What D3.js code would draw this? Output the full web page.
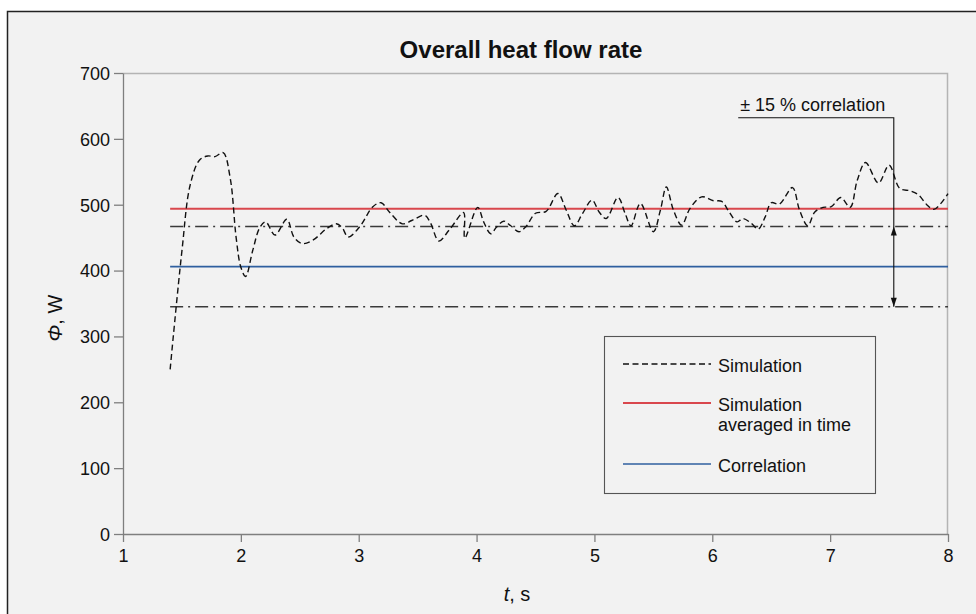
<!DOCTYPE html>
<html>
<head>
<meta charset="utf-8">
<script src="https://cdn.jsdelivr.net/npm/d3@7"></script>
<style>
  html, body { margin: 0; padding: 0; background: #ffffff; }
  svg { display: block; font-family: "Liberation Sans", Arial, Helvetica, sans-serif; }
</style>
</head>
<body>
<svg id="chart" width="976" height="614"></svg>
<script>
// Simulated overall heat flow rate over time (t in s, value in W)
const simTime = [1.40, 1.50, 1.57, 1.65, 1.72, 1.78, 1.85, 1.91, 1.96, 2.00, 2.04, 2.10, 2.16, 2.21, 2.29, 2.39, 2.45, 2.52, 2.61, 2.73, 2.81, 2.86, 2.91, 3.01, 3.12, 3.19, 3.26, 3.37, 3.45, 3.56, 3.61, 3.68, 3.77, 3.89, 3.90, 4.01, 4.06, 4.12, 4.17, 4.23, 4.29, 4.36, 4.42, 4.50, 4.59, 4.69, 4.76, 4.83, 4.90, 4.98, 5.04, 5.10, 5.20, 5.26, 5.31, 5.39, 5.50, 5.56, 5.61, 5.67, 5.74, 5.81, 5.91, 6.01, 6.08, 6.14, 6.21, 6.26, 6.33, 6.39, 6.45, 6.50, 6.57, 6.68, 6.74, 6.81, 6.87, 6.94, 7.01, 7.09, 7.17, 7.23, 7.30, 7.41, 7.50, 7.59, 7.68, 7.75, 7.82, 7.88, 7.94, 8.00];
const simValue = [250, 430, 530, 568, 574, 573, 579, 540, 450, 405, 391, 430, 465, 474, 454, 478, 451, 441, 446, 464, 471, 465, 451, 467, 497, 503, 489, 471, 476, 484, 472, 445, 462, 488, 449, 496, 474, 456, 466, 475, 468, 459, 467, 487, 490, 517, 492, 468, 487, 507, 489, 479, 511, 487, 468, 502, 459, 492, 527, 492, 469, 494, 512, 506, 505, 490, 474, 479, 472, 463, 482, 503, 501, 526, 492, 468, 489, 496, 497, 511, 496, 537, 564, 533, 560, 525, 521, 515, 500, 493, 502, 517];

// Horizontal reference levels (W)
const averagedValue = 494;
const correlationValue = 406;
const bandPercent = 15;
const levelStart = 1.4;
const levelEnd = 8;

// Axis ticks
const xTicks = [1, 2, 3, 4, 5, 6, 7, 8];
const yTicks = [0, 100, 200, 300, 400, 500, 600, 700];

// Legend entries
const legendLabels = [["Simulation"], ["Simulation", "averaged in time"], ["Correlation"]];
const annotationText = "\u00B1 15 % correlation";

const svg = d3.select("#chart");
const W = 976, H = 614;
const margin = { left: 123, top: 73, right: W - 948, bottom: H - 534 };
const plotW = W - margin.left - margin.right;
const plotH = H - margin.top - margin.bottom;

// Outer chart frame
svg.append("rect")
  .attr("x", 7.5).attr("y", 11.5)
  .attr("width", W + 10).attr("height", H + 10)
  .attr("fill", "#f2f2f2")
  .attr("stroke", "#222").attr("stroke-width", 1.5);

const x = d3.scaleLinear().domain([1, 8]).range([margin.left, margin.left + plotW]);
const y = d3.scaleLinear().domain([0, 700]).range([margin.top + plotH, margin.top]);

// Top and right plot borders
svg.append("path")
  .attr("d", `M${x(1)},${y(700) + 0.5}H${x(8) - 0.5}V${y(0)}`)
  .attr("fill", "none").attr("stroke", "#b4b4b4").attr("stroke-width", 1.5);

// Axes
const xAxis = d3.axisBottom(x).tickValues(xTicks).tickFormat(d3.format("d")).tickSizeInner(8).tickSizeOuter(0).tickPadding(5);
const yAxis = d3.axisLeft(y).tickValues(yTicks).tickFormat(d3.format("d")).tickSizeInner(9).tickSizeOuter(0).tickPadding(4);

const gx = svg.append("g").attr("transform", `translate(0,${y(0)})`).call(xAxis);
const gy = svg.append("g").attr("transform", `translate(${x(1)},0)`).call(yAxis);
[gx, gy].forEach(g => {
  g.select(".domain").attr("stroke", "#7f7f7f").attr("stroke-width", 1.3);
  g.selectAll(".tick line").attr("stroke", "#7f7f7f").attr("stroke-width", 1.3);
  g.selectAll(".tick text").attr("fill", "#111").attr("font-size", 18)
    .attr("font-family", "'Liberation Sans', Arial, sans-serif");
});
gx.selectAll(".tick text").attr("dy", "0.85em");
gy.selectAll(".tick text").attr("dy", "0.35em");

// Title
svg.append("text")
  .attr("x", 521).attr("y", 58)
  .attr("text-anchor", "middle")
  .attr("font-size", 24).attr("font-weight", "bold").attr("fill", "#111")
  .text("Overall heat flow rate");

// Axis titles
const yTitle = svg.append("text")
  .attr("transform", "translate(62,318) rotate(-90)")
  .attr("text-anchor", "middle")
  .attr("font-size", 20).attr("fill", "#111");
yTitle.append("tspan").attr("font-style", "italic").text("\u03A6");
yTitle.append("tspan").text(", W");

const xTitle = svg.append("text")
  .attr("x", 517).attr("y", 601)
  .attr("text-anchor", "middle")
  .attr("font-size", 20).attr("fill", "#111");
xTitle.append("tspan").attr("font-style", "italic").text("t");
xTitle.append("tspan").text(", s");

// Reference levels
const upperBand = correlationValue * (1 + bandPercent / 100);
const lowerBand = correlationValue * (1 - bandPercent / 100);
const hLine = (v, color, dash, width) => svg.append("line")
  .attr("x1", x(levelStart)).attr("x2", x(levelEnd))
  .attr("y1", y(v)).attr("y2", y(v))
  .attr("stroke", color).attr("stroke-width", width)
  .attr("stroke-dasharray", dash);

hLine(upperBand, "#3a3a3a", "13,5,2,5", 1.3);
hLine(lowerBand, "#3a3a3a", "13,5,2,5", 1.3);
hLine(averagedValue, "#d9474d", null, 2);
hLine(correlationValue, "#2f5f9f", null, 1.6);

// Simulation curve
const simData = simTime.map((t, i) => [t, simValue[i]]);
const line = d3.line().x(d => x(d[0])).y(d => y(d[1])).curve(d3.curveCatmullRom.alpha(0.5));
svg.append("path")
  .datum(simData)
  .attr("d", line)
  .attr("fill", "none")
  .attr("stroke", "#111").attr("stroke-width", 1.4)
  .attr("stroke-dasharray", "6,3.5");

// Band annotation with double arrow
const annX = 7.54;
const annTextY = 643;
const annLineY = 632;
const annLeft = 6.22;
svg.append("text")
  .attr("x", x(annLeft) + 2).attr("y", y(annTextY))
  .attr("font-size", 18).attr("fill", "#111")
  .text(annotationText);
svg.append("path")
  .attr("d", `M${x(annLeft)},${y(annLineY)}H${x(annX)}V${y(lowerBand)}`)
  .attr("fill", "none").attr("stroke", "#111").attr("stroke-width", 1.1);
const arrow = (yy, dir) => svg.append("path")
  .attr("d", `M${x(annX)},${yy}l-3,${-dir * 9}h6z`)
  .attr("fill", "#111");
arrow(y(upperBand), -1);
arrow(y(lowerBand), 1);

// Legend
const lg = svg.append("g");
lg.append("rect")
  .attr("x", 604.5).attr("y", 336.5).attr("width", 271).attr("height", 157)
  .attr("fill", "none").attr("stroke", "#555").attr("stroke-width", 1.1);
const legendStyles = [
  { color: "#111", dash: "6,3.5", width: 1.3, ly: 364 },
  { color: "#d9474d", dash: null, width: 2, ly: 403 },
  { color: "#2f5f9f", dash: null, width: 1.6, ly: 464 }
];
legendStyles.forEach((s, i) => {
  lg.append("line")
    .attr("x1", 623).attr("x2", 711).attr("y1", s.ly).attr("y2", s.ly)
    .attr("stroke", s.color).attr("stroke-width", s.width)
    .attr("stroke-dasharray", s.dash);
  const t = lg.append("text").attr("font-size", 18).attr("fill", "#111");
  legendLabels[i].forEach((txt, j) => {
    t.append("tspan").attr("x", 718).attr("y", s.ly + 8 + j * 20).text(txt);
  });
});
</script>
</body>
</html>
